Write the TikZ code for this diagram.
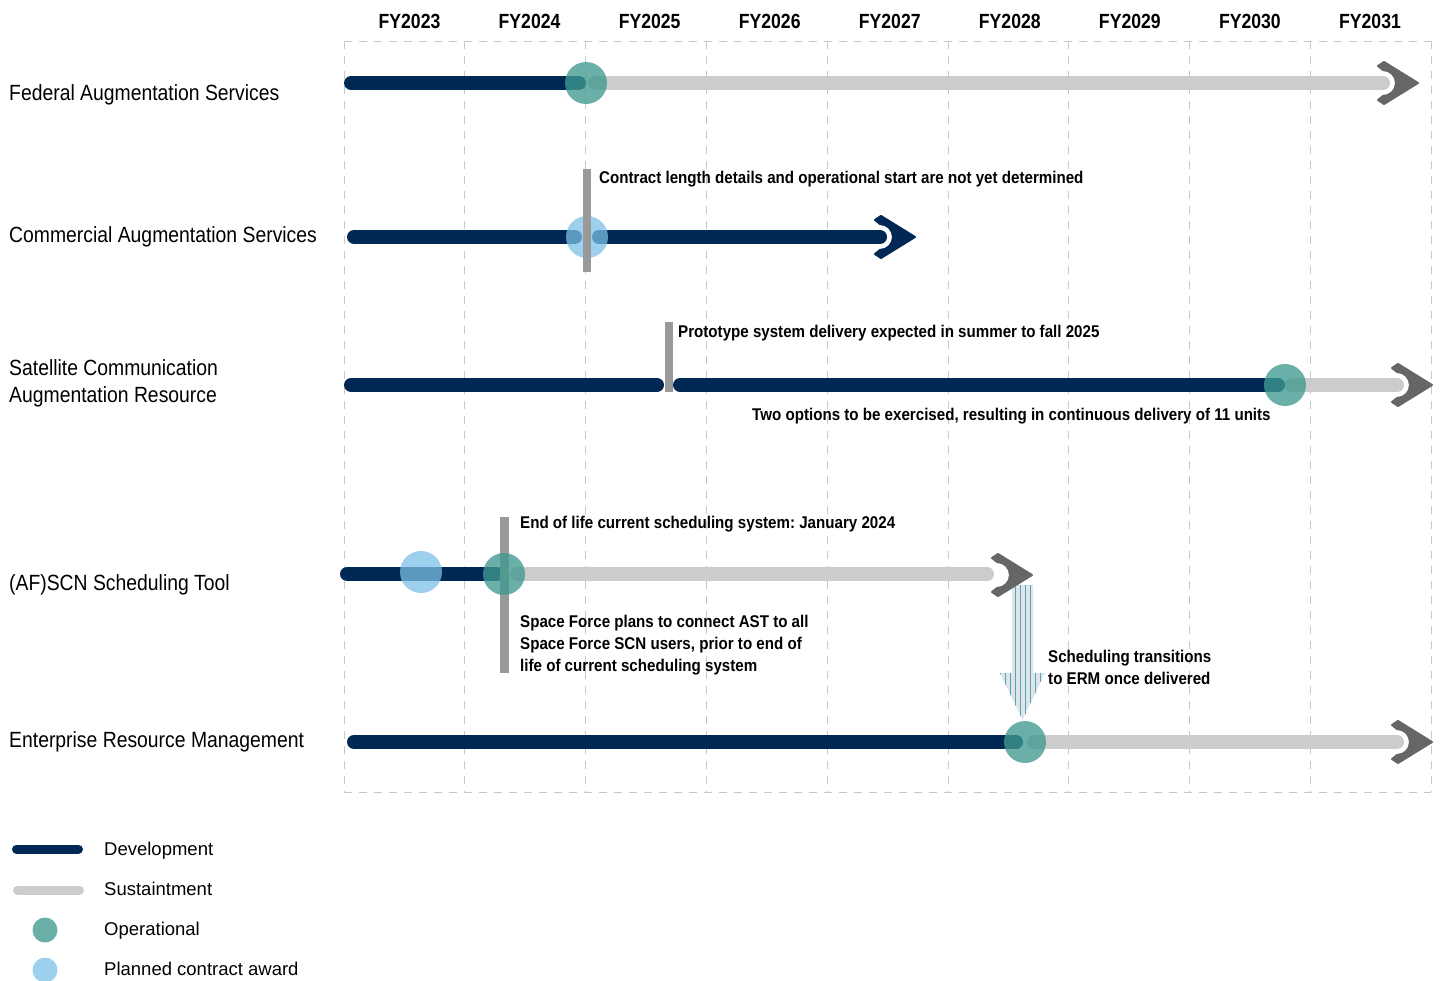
\documentclass[tikz,border=0pt]{standalone}
\usepackage{fontspec}
\setmainfont{Liberation Sans}
\newfontfamily\narrowf[FakeStretch=0.88]{Liberation Sans}
\newfontfamily\narrowb[FakeStretch=0.89]{Liberation Sans}
\newfontfamily\narrowy[FakeStretch=0.86]{Liberation Sans}
\frenchspacing
\definecolor{navy}{RGB}{0,40,85}
\definecolor{sust}{RGB}{204,204,204}
\definecolor{ahgray}{RGB}{102,102,102}
\definecolor{opgreen}{RGB}{64,154,144}
\definecolor{pblue}{RGB}{124,192,229}
\definecolor{markc}{RGB}{153,153,153}
\definecolor{gridc}{RGB}{200,200,200}
\definecolor{hfill}{RGB}{222,228,236}
\definecolor{hstripe}{RGB}{90,165,165}
\newcommand{\tipat}[2]{%
  \fill[#2, draw=#2, line width=2pt, line join=round, shift={(#1)}]
    (0,0) -- (-34,-21) -- (-40,-17) -- (-35,-13)
    .. controls (-27.8,-13) and (-22,-7.2) .. (-22,0)
    .. controls (-22,7.2) and (-27.8,13) .. (-35,13)
    -- (-40,17) -- (-34,21) -- cycle;}
\begin{document}
\begin{tikzpicture}[x=1pt,y=-1pt,
  devbar/.style={navy, line width=14pt, line cap=round},
  susbar/.style={sust, line width=14pt, line cap=round},
  opdot/.style={circle, fill=opgreen, fill opacity=0.78, minimum size=42pt, inner sep=0pt},
  pldot/.style={circle, fill=pblue, fill opacity=0.75, minimum size=42pt, inner sep=0pt},
  markbar/.style={markc, line width=8pt},
  gridline/.style={gridc, line width=1pt, dash pattern=on 8pt off 7pt},
  rowlabel/.style={anchor=base west, inner sep=0pt, font=\narrowf\fontsize{22}{26}\selectfont},
  note/.style={anchor=base west, inner sep=0pt, font=\narrowb\bfseries\fontsize{17}{22}\selectfont},
  yearlbl/.style={anchor=base, inner sep=0pt, font=\narrowy\bfseries\fontsize{20.5}{24}\selectfont},
  legtext/.style={anchor=base west, inner sep=0pt, font=\fontsize{18.5}{22}\selectfont},
  legdev/.style={navy, line width=9pt, line cap=round},
  legsus/.style={sust, line width=9pt, line cap=round},
  legop/.style={circle, fill=opgreen, fill opacity=0.78, minimum size=25pt, inner sep=0pt},
  legpl/.style={circle, fill=pblue, fill opacity=0.75, minimum size=25pt, inner sep=0pt}]
\useasboundingbox (0,0) rectangle (1440,980);
% grid
\foreach \i in {0,...,9} {
  \coordinate (gt\i) at (344+120.8*\i,41);
  \coordinate (gb\i) at (344+120.8*\i,792);
  \draw[gridline] (gt\i) -- (gb\i);
}
\draw[gridline] (gt0) -- (gt9);
\draw[gridline] (gb0) -- (gb9);
% years
\foreach \y [count=\i from 0] in {2023,2024,2025,2026,2027,2028,2029,2030,2031}
  \node[yearlbl] (fy\y) at (409.5+120.06*\i,28) {FY\y};
% row labels
\node[rowlabel] (l1) at (9,100) {Federal Augmentation Services};
\node[rowlabel] (l2) at (9,242) {Commercial Augmentation Services};
\node[rowlabel] (l3a) at (9,375) {Satellite Communication};
\node[rowlabel] (l3b) at (9,402) {Augmentation Resource};
\node[rowlabel] (l4) at (9,590) {(AF)SCN Scheduling Tool};
\node[rowlabel] (l5) at (9,747) {Enterprise Resource Management};
% row 1
\coordinate (r1a) at (351,83); \coordinate (r1b) at (579,83);
\coordinate (r1c) at (595,83); \coordinate (r1d) at (1383,83);
\coordinate (r1t) at (1418,83);
\draw[susbar] (r1c) -- (r1d);
\draw[devbar] (r1a) -- (r1b);
\node[opdot] (op1) at (586,83) {};
\tipat{r1t}{ahgray}
% row 2
\coordinate (r2a) at (354,237); \coordinate (r2b) at (575,237);
\coordinate (r2c) at (599,237); \coordinate (r2d) at (880,237);
\coordinate (r2t) at (915,237);
\draw[devbar] (r2a) -- (r2b);
\draw[devbar] (r2c) -- (r2d);
\node[pldot] (pl2) at (587,237) {};
\coordinate (m2a) at (587,169); \coordinate (m2b) at (587,272);
\draw[markbar] (m2a) -- (m2b);
\tipat{r2t}{navy}
\node[note] (n2) at (599,183) {Contract length details and operational start are not yet determined};
% row 3
\coordinate (r3a) at (351,385); \coordinate (r3b) at (657,385);
\coordinate (r3c) at (680,385); \coordinate (r3d) at (1278,385);
\coordinate (r3e) at (1292,385); \coordinate (r3f) at (1397,385);
\coordinate (r3t) at (1432,385);
\draw[devbar] (r3a) -- (r3b);
\draw[susbar] (r3e) -- (r3f);
\draw[devbar] (r3c) -- (r3d);
\coordinate (m3a) at (669,322); \coordinate (m3b) at (669,392);
\draw[markbar] (m3a) -- (m3b);
\node[opdot] (op3) at (1285,385) {};
\tipat{r3t}{ahgray}
\node[note] (n3a) at (678,337) {Prototype system delivery expected in summer to fall 2025};
\node[note] (n3b) at (752,420) {Two options to be exercised, resulting in continuous delivery of 11 units};
% hatched transition arrow
\begin{scope}
  \path[clip] (1012,585) -- (1033,585) -- (1033,673) -- (1045,673) -- (1022.5,720)
    -- (1000,673) -- (1012,673) -- cycle;
  \fill[hfill] (995,580) rectangle (1050,725);
  \foreach \k in {0,...,10}
    \draw[hstripe, line width=0.8pt] (1000.5+5*\k,580) -- (1000.5+5*\k,725);
\end{scope}
\node[note] (n45a) at (1048,662) {Scheduling transitions};
\node[note] (n45b) at (1048,684) {to ERM once delivered};
% row 4
\coordinate (r4a) at (347,574); \coordinate (r4b) at (497,574);
\coordinate (r4c) at (517,574); \coordinate (r4d) at (987,574);
\coordinate (r4t) at (1032,575);
\draw[susbar] (r4c) -- (r4d);
\draw[devbar] (r4a) -- (r4b);
\node[pldot] (pl4) at (421,572) {};
\coordinate (m4a) at (504,517); \coordinate (m4b) at (504,673);
\draw[markbar, line width=9pt] (m4a) -- (m4b);
\node[opdot] (op4) at (504,574) {};
\tipat{r4t}{ahgray}
\node[note] (n4a) at (520,528) {End of life current scheduling system: January 2024};
\node[note] (n4b) at (520,627) {Space Force plans to connect AST to all};
\node[note] (n4c) at (520,649) {Space Force SCN users, prior to end of};
\node[note] (n4d) at (520,671) {life of current scheduling system};
% row 5
\coordinate (r5a) at (354,742); \coordinate (r5b) at (1016,742);
\coordinate (r5c) at (1034,742); \coordinate (r5d) at (1397,742);
\coordinate (r5t) at (1432,742);
\draw[susbar] (r5c) -- (r5d);
\draw[devbar] (r5a) -- (r5b);
\node[opdot] (op5) at (1025,742) {};
\tipat{r5t}{ahgray}
% legend
\coordinate (ld1) at (16.5,849); \coordinate (ld2) at (78.5,849);
\coordinate (ls1) at (17.5,890); \coordinate (ls2) at (79.5,890);
\draw[legdev] (ld1) -- (ld2);
\draw[legsus] (ls1) -- (ls2);
\node[legop] (lop) at (45,930) {};
\node[legpl] (lpl) at (45,970) {};
\node[legtext] (t1) at (104,855) {Development};
\node[legtext] (t2) at (104,895) {Sustaintment};
\node[legtext] (t3) at (104,935) {Operational};
\node[legtext] (t4) at (104,975) {Planned contract award};
\end{tikzpicture}
\end{document}
